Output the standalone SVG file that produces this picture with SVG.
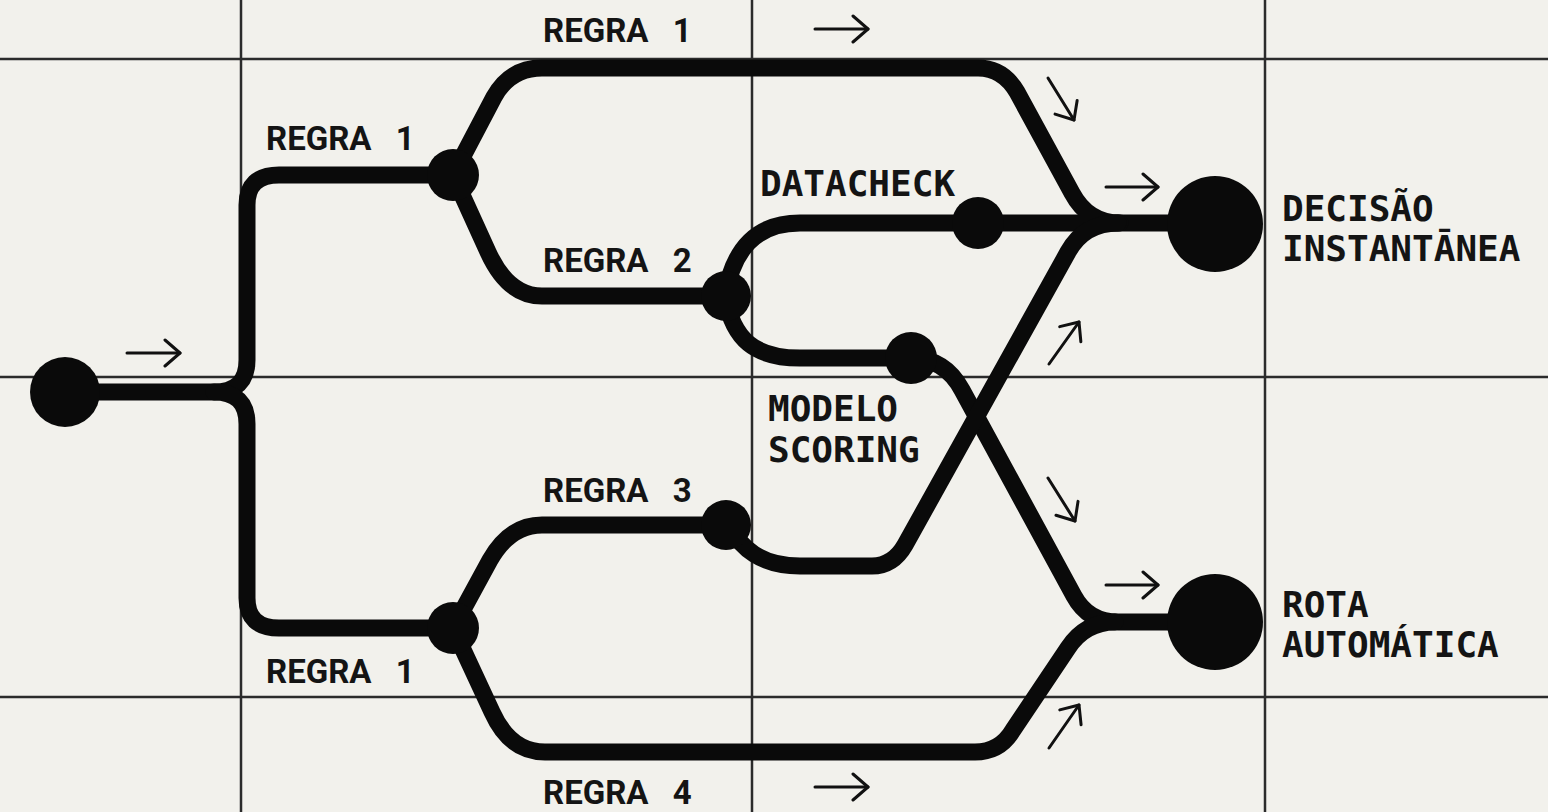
<svg xmlns="http://www.w3.org/2000/svg" width="1548" height="812" viewBox="0 0 1548 812">
  <defs>
    <style>
      .grid { stroke: #2b2b2b; stroke-width: 2.5; fill: none; }
      .track { stroke: #0a0a0a; stroke-width: 17; fill: none; stroke-linecap: round; stroke-linejoin: round; }
      .dot { fill: #0a0a0a; }
      .flow { stroke: #111; stroke-width: 3; fill: none; stroke-linecap: round; marker-end: url(#chev); }
      .rule { font-family: Roboto, "Liberation Sans", sans-serif; font-weight: 700; font-size: 33px; fill: #141414; word-spacing: 16px; }
      .mono { font-family: "DejaVu Sans Mono", "Liberation Mono", monospace; font-weight: 700; font-size: 36px; fill: #141414; }
    </style>
    <marker id="chev" viewBox="0 0 20 30" refX="18" refY="15" markerWidth="20" markerHeight="30" markerUnits="userSpaceOnUse" orient="auto">
      <path d="M3,2 L18,15 L3,28" fill="none" stroke="#111" stroke-width="3" stroke-linecap="round" stroke-linejoin="round"/>
    </marker>
  </defs>

  <rect width="1548" height="812" fill="#f2f1ec"/>

  <!-- background grid -->
  <g id="grid" class="grid">
    <line x1="0" y1="59" x2="1548" y2="59"/>
    <line x1="0" y1="377" x2="1548" y2="377"/>
    <line x1="0" y1="697" x2="1548" y2="697"/>
    <line x1="241" y1="0" x2="241" y2="812"/>
    <line x1="752" y1="0" x2="752" y2="812"/>
    <line x1="1265" y1="0" x2="1265" y2="812"/>
  </g>

  <!-- tracks between nodes -->
  <g id="connectors" class="track">
    <path d="M65,392 H214 Q247,392 247,360 V205 Q247,175 279,175 H453"/>
    <path d="M214,392 Q247,392 247,424 V598 Q247,628 279,628 H453"/>
    <path d="M453,175 L494,97 Q510,68 542,68 H978 Q1003,68 1017,92 L1072,193 Q1088,223 1120,223 H1215"/>
    <path d="M453,175 L488,252 Q508,296 542,296 H725"/>
    <path d="M725,296 C733,250 755,223 800,223 H1120"/>
    <path d="M725,296 C733,340 755,358 800,358 H910"/>
    <path d="M910,358 Q945,358 962,390 L1074,596 Q1088,622 1118,622 H1215"/>
    <path d="M453,628 L490,560 Q510,525 542,525 H727"/>
    <path d="M727,525 C742,548 760,566 800,566 H872 Q893,566 905,545 L1068,252 Q1084,223 1118,223"/>
    <path d="M453,628 L492,712 Q510,752 545,752 H975 Q1000,752 1013,730 L1068,648 Q1085,622 1115,622"/>
  </g>

  <!-- direction arrows -->
  <g id="flow-arrows">
    <path class="flow" d="M127,353 H180"/>
    <path class="flow" d="M815,29 H868"/>
    <path class="flow" d="M1048,78 L1074,120"/>
    <path class="flow" d="M1106,187 H1158"/>
    <path class="flow" d="M1049,364 L1079,322"/>
    <path class="flow" d="M1048,478 L1075,521"/>
    <path class="flow" d="M1106,585 H1158"/>
    <path class="flow" d="M1049,748 L1079,705"/>
    <path class="flow" d="M815,787 H868"/>
  </g>

  <!-- rule labels -->
  <g id="rule-labels" class="rule">
    <text x="543" y="42">REGRA 1</text>
    <text x="266" y="150">REGRA 1</text>
    <text x="543" y="272">REGRA 2</text>
    <text x="543" y="502">REGRA 3</text>
    <text x="266" y="683">REGRA 1</text>
    <text x="543" y="804">REGRA 4</text>
  </g>

  <g id="start">
    <circle class="dot" cx="65" cy="392" r="35"/>
  </g>
  <g id="split-top">
    <circle class="dot" cx="453" cy="175" r="26"/>
  </g>
  <g id="split-bottom">
    <circle class="dot" cx="453" cy="628" r="26"/>
  </g>
  <g id="rule-2">
    <circle class="dot" cx="726" cy="296" r="25"/>
  </g>
  <g id="rule-3">
    <circle class="dot" cx="726" cy="525" r="25"/>
  </g>
  <g id="datacheck">
    <circle class="dot" cx="978" cy="223" r="26"/>
    <text class="mono" x="760" y="196">DATACHECK</text>
  </g>
  <g id="modelo-scoring">
    <circle class="dot" cx="911" cy="358" r="26"/>
    <text class="mono" x="768" y="421">MODELO</text>
    <text class="mono" x="768" y="462">SCORING</text>
  </g>
  <g id="decisao-instantanea">
    <circle class="dot" cx="1215" cy="224" r="48"/>
    <text class="mono" x="1282" y="221">DECISÃO</text>
    <text class="mono" x="1282" y="261">INSTANTĀNEA</text>
  </g>
  <g id="rota-automatica">
    <circle class="dot" cx="1215" cy="622" r="48"/>
    <text class="mono" x="1282" y="617">ROTA</text>
    <text class="mono" x="1282" y="657">AUTOMÁTICA</text>
  </g>
</svg>
